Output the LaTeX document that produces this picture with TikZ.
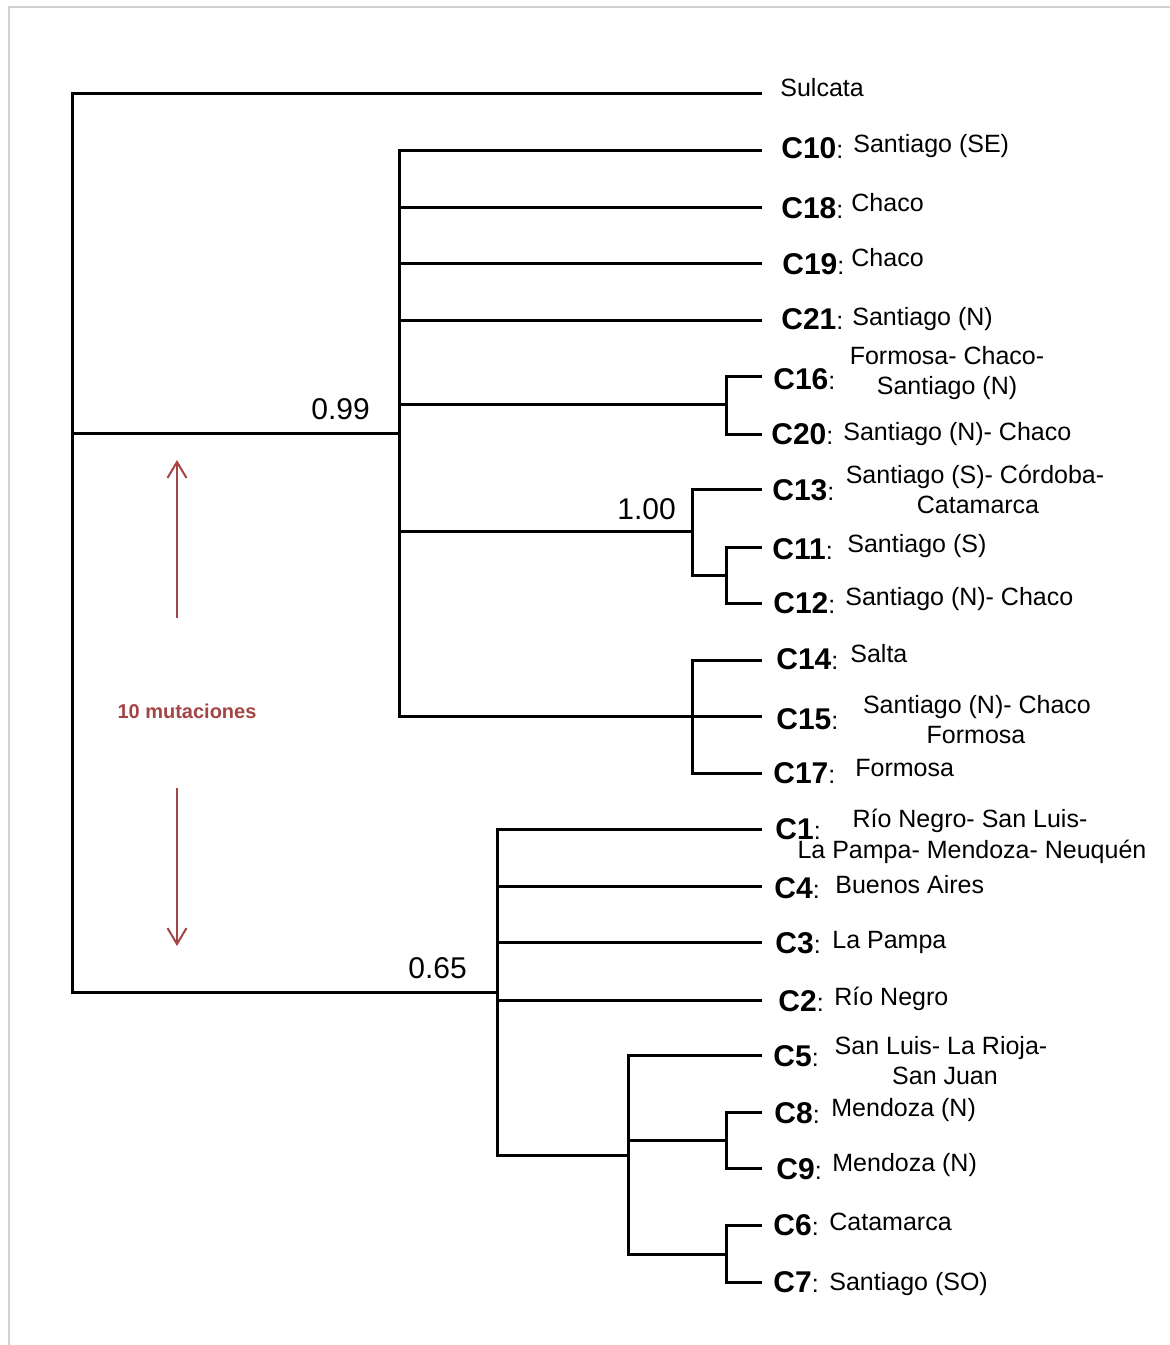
\documentclass[tikz,border=0pt]{standalone}
\usepackage{fontspec}
\setmainfont{Liberation Sans}
\usetikzlibrary{arrows.meta}
\definecolor{mutred}{RGB}{165,68,68}
\newcommand\haplab[1]{#1{\fontsize{12.5}{14}\mdseries\selectfont:}}
\begin{document}
\begin{tikzpicture}[x=0.5pt,y=-0.5pt,
  branch/.style={line width=1.5pt, line join=miter, line cap=rect},
  clab/.style={anchor=base west, inner sep=0pt, font=\fontsize{15}{18}\selectfont\bfseries},
  loc/.style={anchor=base west, inner sep=0pt, font=\fontsize{12.5}{14}\selectfont},
  loctwo/.style={anchor=base, inner sep=0pt, font=\fontsize{12.5}{14}\selectfont},
  support/.style={anchor=base west, inner sep=0pt, font=\fontsize{15}{17}\selectfont},
  scalearrow/.style={draw=mutred, line width=1pt, -{Straight Barb[length=8pt,width=9.5pt]}},
  scalelab/.style={anchor=base, inner sep=0pt, text=mutred, font=\fontsize{10}{12}\selectfont\bfseries}]
\useasboundingbox (0,0) rectangle (1170,1345);
\draw[gray!35, line width=0.75pt] (9,1345) -- (9,7) -- (1170,7);

% internal nodes
\coordinate (root) at (72,433);
\coordinate (n099) at (399,433);
\coordinate (n16) at (726,404);
\coordinate (n100) at (692,531);
\coordinate (n1112) at (726,575);
\coordinate (n1415) at (692,716);
\coordinate (n065) at (497,992);
\coordinate (n58) at (628,1155);
\coordinate (n89) at (726,1140);
\coordinate (n67) at (726,1254);
% leaf tips
\coordinate (tSul) at (760,93);
\coordinate (t10) at (760,150);
\coordinate (t18) at (760,207);
\coordinate (t19) at (760,263);
\coordinate (t21) at (760,320);
\coordinate (t16) at (760,376);
\coordinate (t20) at (760,434);
\coordinate (t13) at (760,489);
\coordinate (t11) at (760,547);
\coordinate (t12) at (760,603);
\coordinate (t14) at (760,660);
\coordinate (t15) at (760,716);
\coordinate (t17) at (760,773);
\coordinate (t1) at (760,829);
\coordinate (t4) at (760,886);
\coordinate (t3) at (760,942);
\coordinate (t2) at (760,1000);
\coordinate (t5) at (760,1055);
\coordinate (t8) at (760,1112);
\coordinate (t9) at (760,1168);
\coordinate (t6) at (760,1225);
\coordinate (t7) at (760,1282);

% branches
\draw[branch] (root) |- (tSul);
\draw[branch] (root) |- (n099);
\draw[branch] (root) |- (n065);
\foreach \c in {t10,t18,t19,t21,n16,n100,n1415} \draw[branch] (n099) |- (\c);
\foreach \c in {t16,t20} \draw[branch] (n16) |- (\c);
\foreach \c in {t13,n1112} \draw[branch] (n100) |- (\c);
\foreach \c in {t11,t12} \draw[branch] (n1112) |- (\c);
\foreach \c in {t14,t15,t17} \draw[branch] (n1415) |- (\c);
\foreach \c in {t1,t4,t3,t2,n58} \draw[branch] (n065) |- (\c);
\foreach \c in {t5,n89,n67} \draw[branch] (n58) |- (\c);
\foreach \c in {t8,t9} \draw[branch] (n89) |- (\c);
\foreach \c in {t6,t7} \draw[branch] (n67) |- (\c);

% support values
\node[support] (s099) at (311,419) {0.99};
\node[support] (s100) at (617,519) {1.00};
\node[support] (s065) at (408,978) {0.65};

% scale
\coordinate (aUpS) at (177,618);
\coordinate (aUpE) at (177,460);
\coordinate (aDnS) at (177,788);
\coordinate (aDnE) at (177,946);
\draw[scalearrow] (aUpS) -- (aUpE);
\draw[scalearrow] (aDnS) -- (aDnE);
\node[scalelab] (mut) at (187,718) {10 mutaciones};

% labels
\node[loc] (lSul) at (780,96) {Sulcata};
\node[clab] (c10) at (781,158) {\haplab{C10}};
\node[loc] (g10) at (853,152) {Santiago (SE)};
\node[clab] (c18) at (781,218) {\haplab{C18}};
\node[loc] (g18) at (851,211) {Chaco};
\node[clab] (c19) at (782,274) {\haplab{C19}};
\node[loc] (g19) at (851,266) {Chaco};
\node[clab] (c21) at (781,329) {\haplab{C21}};
\node[loc] (g21) at (852,325) {Santiago (N)};
\node[clab] (c16) at (773,389) {\haplab{C16}};
\node[loctwo] (g16a) at (947,364) {Formosa- Chaco-};
\node[loctwo] (g16b) at (947,394) {Santiago (N)};
\node[clab] (c20) at (771,444) {\haplab{C20}};
\node[loc] (g20) at (843,440) {Santiago (N)- Chaco};
\node[clab] (c13) at (772,500) {\haplab{C13}};
\node[loctwo] (g13a) at (975,483) {Santiago (S)- Córdoba-};
\node[loctwo] (g13b) at (978,513) {Catamarca};
\node[clab] (c11) at (772,559) {\haplab{C11}};
\node[loc] (g11) at (847,552) {Santiago (S)};
\node[clab] (c12) at (773,613) {\haplab{C12}};
\node[loc] (g12) at (845,605) {Santiago (N)- Chaco};
\node[clab] (c14) at (776,669) {\haplab{C14}};
\node[loc] (g14) at (850,662) {Salta};
\node[clab] (c15) at (776,729) {\haplab{C15}};
\node[loctwo] (g15a) at (977,713) {Santiago (N)- Chaco};
\node[loctwo] (g15b) at (976,743) {Formosa};
\node[clab] (c17) at (773,783) {\haplab{C17}};
\node[loc] (g17) at (855,776) {Formosa};
\node[clab] (c1) at (775,839) {\haplab{C1}};
\node[loctwo] (g1a) at (970,827) {Río Negro- San Luis-};
\node[loctwo] (g1b) at (972,858) {La Pampa- Mendoza- Neuquén};
\node[clab] (c4) at (774,898) {\haplab{C4}};
\node[loc] (g4) at (835,893) {Buenos Aires};
\node[clab] (c3) at (775,953) {\haplab{C3}};
\node[loc] (g3) at (832,948) {La Pampa};
\node[clab] (c2) at (778,1011) {\haplab{C2}};
\node[loc] (g2) at (834,1005) {Río Negro};
\node[clab] (c5) at (773,1066) {\haplab{C5}};
\node[loctwo] (g5a) at (941,1054) {San Luis- La Rioja-};
\node[loctwo] (g5b) at (945,1084) {San Juan};
\node[clab] (c8) at (774,1123) {\haplab{C8}};
\node[loc] (g8) at (831,1116) {Mendoza (N)};
\node[clab] (c9) at (776,1179) {\haplab{C9}};
\node[loc] (g9) at (832,1171) {Mendoza (N)};
\node[clab] (c6) at (773,1235) {\haplab{C6}};
\node[loc] (g6) at (829,1230) {Catamarca};
\node[clab] (c7) at (773,1292) {\haplab{C7}};
\node[loc] (g7) at (829,1290) {Santiago (SO)};
\end{tikzpicture}
\end{document}
